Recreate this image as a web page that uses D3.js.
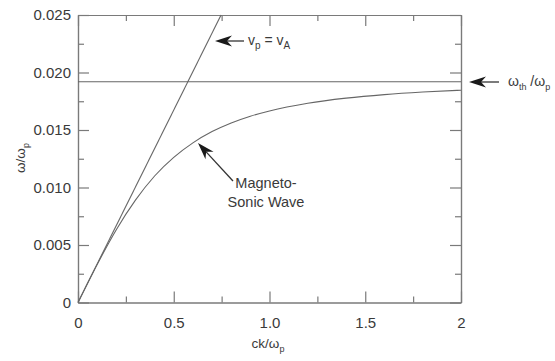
<!DOCTYPE html>
<html>
<head>
<meta charset="utf-8">
<script src="https://cdn.jsdelivr.net/npm/d3@7"></script>
<style>
  body { margin: 0; background: #fff; }
  text { font-family: "Liberation Sans", Arial, sans-serif; fill: #3a3a3a; }
</style>
</head>
<body>
<div id="chart"></div>
<script>
// values
const xTicks = [0, 0.5, 1.0, 1.5, 2];
const xTickLabels = ["0", "0.5", "1.0", "1.5", "2"];
const xMinor = [0.25, 0.75, 1.25, 1.75];
const yTicks = [0, 0.005, 0.010, 0.015, 0.020, 0.025];
const yTickLabels = ["0", "0.005", "0.010", "0.015", "0.020", "0.025"];
const yMinor = [0.0025, 0.0075, 0.0125, 0.0175, 0.0225];

// magneto-sonic wave branch
const waveK = [0, 0.05, 0.1, 0.2, 0.3, 0.4, 0.5, 0.6, 0.7, 0.8, 0.9, 1.0, 1.2, 1.4, 1.6, 1.8, 2.0];
const waveW = [0, 0.00167, 0.0033, 0.00633, 0.0089, 0.0110, 0.01262, 0.01388, 0.01486, 0.01561, 0.0162, 0.01666, 0.01733, 0.01777, 0.01808, 0.0183, 0.01846];

// v_p = v_A line
const alfvenK = [0, 0.747];
const alfvenW = [0, 0.025];

// omega_th / omega_p level
const thresholdW = 0.0192;

let margin = {top: 15, right: 94, bottom: 58.5, left: 78},
    width = 555 - margin.left - margin.right,
    height = 361 - margin.top - margin.bottom;

let svg = d3.select("#chart")
  .append("svg")
    .attr("width", 555)
    .attr("height", 361)
  .append("g")
    .attr("transform", `translate(${margin.left}, ${margin.top})`);

const x = d3.scaleLinear().domain([0, 2]).range([0, width]);
const y = d3.scaleLinear().domain([0, 0.025]).range([height, 0]);

const axisColor = "#7a7a7a";

function styleAxis(g) {
  g.selectAll("path, line").attr("stroke", axisColor).attr("stroke-width", 1.2);
  g.selectAll("text").attr("font-size", "15px").attr("fill", "#3a3a3a")
    .style("font-family", '"Liberation Sans", Arial, sans-serif');
}

// bottom axis
svg.append("g")
  .attr("transform", `translate(0, ${height})`)
  .call(d3.axisBottom(x).tickValues(xTicks).tickFormat((d, i) => xTickLabels[i])
    .tickSizeInner(-11).tickSizeOuter(0).tickPadding(15))
  .call(styleAxis);
svg.append("g")
  .attr("transform", `translate(0, ${height})`)
  .call(d3.axisBottom(x).tickValues(xMinor).tickFormat("").tickSizeInner(-6).tickSizeOuter(0))
  .call(styleAxis);

// top axis
svg.append("g")
  .call(d3.axisTop(x).tickValues(xTicks).tickFormat("").tickSizeInner(-11).tickSizeOuter(0))
  .call(styleAxis);
svg.append("g")
  .call(d3.axisTop(x).tickValues(xMinor).tickFormat("").tickSizeInner(-6).tickSizeOuter(0))
  .call(styleAxis);

// left axis
svg.append("g")
  .call(d3.axisLeft(y).tickValues(yTicks).tickFormat((d, i) => yTickLabels[i])
    .tickSizeInner(-11).tickSizeOuter(0).tickPadding(7))
  .call(styleAxis);
svg.append("g")
  .call(d3.axisLeft(y).tickValues(yMinor).tickFormat("").tickSizeInner(-6).tickSizeOuter(0))
  .call(styleAxis);

// right axis
svg.append("g")
  .attr("transform", `translate(${width}, 0)`)
  .call(d3.axisRight(y).tickValues(yTicks).tickFormat("").tickSizeInner(-11).tickSizeOuter(0))
  .call(styleAxis);
svg.append("g")
  .attr("transform", `translate(${width}, 0)`)
  .call(d3.axisRight(y).tickValues(yMinor).tickFormat("").tickSizeInner(-6).tickSizeOuter(0))
  .call(styleAxis);

const line = d3.line()
  .x(d => x(d[0]))
  .y(d => y(d[1]));

// threshold line
svg.append("line")
  .attr("x1", x(0)).attr("x2", x(2))
  .attr("y1", y(thresholdW)).attr("y2", y(thresholdW))
  .attr("stroke", "#666").attr("stroke-width", 1.1);

// v_p = v_A
svg.append("path")
  .datum(alfvenK.map((k, i) => [k, alfvenW[i]]))
  .attr("d", line)
  .attr("fill", "none").attr("stroke", "#666").attr("stroke-width", 1.1);

// magneto-sonic wave
svg.append("path")
  .datum(waveK.map((k, i) => [k, waveW[i]]))
  .attr("d", line.curve(d3.curveMonotoneX))
  .attr("fill", "none").attr("stroke", "#666").attr("stroke-width", 1.1);

// arrows (tip, tail in pixels of the page)
function arrow(tip, tail) {
  const dx = tail[0] - tip[0], dy = tail[1] - tip[1];
  const len = Math.hypot(dx, dy);
  const ux = dx / len, uy = dy / len;
  const headLen = 17, headW = 5.5, notch = 12;
  const bx = tip[0] + ux * headLen, by = tip[1] + uy * headLen;
  const nx = tip[0] + ux * notch, ny = tip[1] + uy * notch;
  const g = d3.select("svg").append("g");
  g.append("line")
    .attr("x1", nx).attr("y1", ny).attr("x2", tail[0]).attr("y2", tail[1])
    .attr("stroke", "#333").attr("stroke-width", 1.3);
  g.append("path")
    .attr("d", `M${tip[0]},${tip[1]} L${bx - uy * headW},${by + ux * headW} L${nx},${ny} L${bx + uy * headW},${by - ux * headW} Z`)
    .attr("fill", "#1a1a1a");
}

arrow([215, 41], [244, 41]);
arrow([469, 82], [499, 82]);
arrow([198, 143], [233, 181]);

const root = d3.select("svg");

// v_p = v_A label
const t1 = root.append("text").attr("x", 248).attr("y", 45).attr("font-size", "14px");
t1.append("tspan").text("v");
t1.append("tspan").text("p").attr("font-size", "10px").attr("dy", 4);
t1.append("tspan").text(" = v").attr("dy", -4);
t1.append("tspan").text("A").attr("font-size", "10px").attr("dy", 4);

// omega_th / omega_p label
const t2 = root.append("text").attr("x", 508).attr("y", 86).attr("font-size", "14px");
t2.append("tspan").text("ω");
t2.append("tspan").text("th").attr("font-size", "9px").attr("dy", 4);
t2.append("tspan").text(" /ω").attr("dy", -4);
t2.append("tspan").text("p").attr("font-size", "9px").attr("dy", 4);

// magneto-sonic label
root.append("text").attr("x", 266).attr("y", 188).attr("text-anchor", "middle")
  .attr("font-size", "14.5px").text("Magneto-");
root.append("text").attr("x", 266).attr("y", 207).attr("text-anchor", "middle")
  .attr("font-size", "14.5px").text("Sonic Wave");

// axis titles
const xt = root.append("text").attr("x", 268).attr("y", 348).attr("text-anchor", "middle")
  .attr("font-size", "13.5px");
xt.append("tspan").text("ck/ω");
xt.append("tspan").text("p").attr("font-size", "9px").attr("dy", 4);

const yt = root.append("text").attr("transform", "translate(25, 158) rotate(-90)")
  .attr("text-anchor", "middle").attr("font-size", "13.5px");
yt.append("tspan").text("ω/ω");
yt.append("tspan").text("p").attr("font-size", "9px").attr("dy", 4);
</script>
</body>
</html>
